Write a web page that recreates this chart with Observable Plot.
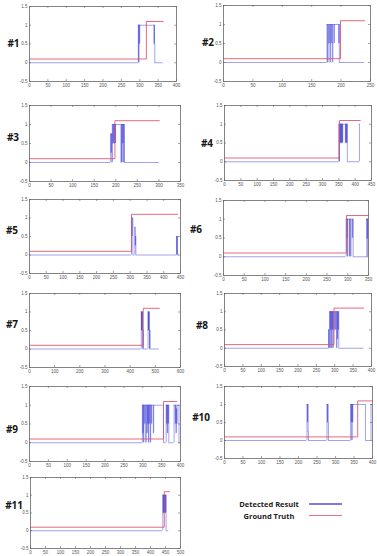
<!DOCTYPE html>
<html>
<head>
<meta charset="utf-8">
<script src="https://cdn.jsdelivr.net/npm/d3@7"></script>
<script src="https://cdn.jsdelivr.net/npm/@observablehq/plot@0.6"></script>
<style>
  body { margin: 0; background: #fff; }
  #chart { position: relative; width: 377px; height: 556px; overflow: hidden; font-family: "Open Sans", "Liberation Sans", sans-serif; }
  .panel { position: absolute; }
  .tag { position: absolute; font-weight: 700; font-size: 10px; color: #151515; transform: translate(-50%, -50%); white-space: nowrap; letter-spacing: -0.2px; }
  .legend-text { position: absolute; font-weight: 700; font-size: 7.5px; color: #222; transform: translate(-50%, -50%); white-space: nowrap; }
  .legend-line { position: absolute; height: 1.3px; }
</style>
</head>
<body>
<div id="chart"></div>
<script>
// Sequence names
const panelNames = ["#1", "#2", "#3", "#4", "#5", "#6", "#7", "#8", "#9", "#10", "#11"];

// x-axis extent and tick step per sequence (frame index)
const xMax  = [400, 250, 350, 450, 450, 350, 600, 400, 400, 400, 500];
const xStep = [50, 50, 50, 50, 50, 50, 100, 50, 50, 50, 50];
const yTicks = [-0.5, 0, 0.5, 1, 1.5];

// Ground truth: low level until the event frame, high level until the last frame
const truthLevels = [0.1, 1.1];
const truthRise = [318, 199, 198, 352, 304, 297, 452, 298, 355, 360, 446];
const truthEnd  = [364, 240, 301, 416, 442, 350, 516, 379, 391, 400, 464];

// Detected result: [frame, value] change points (held until the next point)
const detected1 = [[0,0],[296,1],[297,0],[298,1],[299,0.5],[300,1],[339,0.5],[339.5,1],[340,0.5],[341,0],[364,0]];
const detected2 = [[0,0],[176,1],[177,0],[178,1],[179,0.5],[180,1],[181,0],[182,1],[183,0.5],[184,1],[185,0],[186,1],[188,0.5],[188.5,1],[196,0.5],[196.5,1],[197,0],[240,0]];
const detected3 = [[0,0],[188,0.75],[189,0.25],[190,0.75],[191,0],[192,1],[193,0.5],[194,1],[195,0.5],[196,1],[197,0.5],[198,1],[199,0.5],[199.5,1],[212,0],[213,1],[214,0],[215,1],[216,0.5],[217,1],[218,0],[219,1],[220,0],[301,0]];
const detected4 = [[0,0],[350,1],[351,0],[352,1],[353,0.5],[354,1],[355,0.5],[356,1],[357,0.5],[358,1],[359,0.5],[360,1],[361,0.5],[362,1],[370,0.5],[371,1],[372,0.5],[373,1],[374,0.5],[375,1],[376,0],[413,1],[415,1]];
const detected5 = [[0,0],[304,1],[305,0.5],[306,1],[308,0],[314,0.75],[315,0.25],[316,0.5],[317,0],[438,0.5],[439,0],[440,0.5],[441,0],[446,0]];
const detected6 = [[0,0],[296,1],[297,0.5],[298,1],[299,0],[300,1],[304,0],[304.5,1],[307,0],[307.5,1],[311,0.5],[312,1],[313,0],[316,0],[346,1],[346.5,0.5],[347,1],[347.5,0.5],[348,0]];
const detected7 = [[0,0],[444,1],[445,0.5],[446,1],[447,0.5],[448,1],[449,0.5],[450,0],[451,0.5],[452,0],[471,1],[472,0.5],[473,1],[474,0.5],[475,1],[476,0.5],[477,0],[478,0.5],[478.5,0],[516,0]];
const detected8 = [[0,0],[283,0.5],[284,0],[285,0.5],[286,1],[287,0],[288,1],[289,0.5],[290,1],[291,0],[292,1],[293,0.5],[294,1],[295,0],[296,1],[298,0.5],[299,1],[302,0.5],[303,1],[305,0],[306,1],[307,0.25],[308,1],[309,0.5],[310,1],[311,0],[379,0]];
const detected9 = [[0,0],[299,1],[300,0.25],[301,1],[302,0],[303,1],[305,0.5],[306,1],[308,0],[309,1],[311,0.25],[312,1],[313,0.5],[314,1],[315,0],[316,1],[317,0.5],[318,1],[320,0],[321,1],[323,0.5],[324,1],[328,0.25],[329,1],[355,0],[362,1],[363,0.5],[364,1],[365,0.25],[366,1],[367,0.5],[368,1],[369,0],[383,1],[386,0.5],[387,1],[388,0.25],[389,0.9],[390,0.5],[391,1],[396,0],[400,0]];
const detected10 = [[0,0],[223,1],[224,0.5],[225,1],[226,0.25],[227,0],[277,1],[278,0.5],[279,1],[280,0.5],[281,0],[341,1],[342,0.5],[343,1],[344,0],[345,1],[346,0.5],[347,1],[381,0],[396,1],[400,1]];
const detected11 = [[0,0],[441,1],[442,0.5],[443,1],[444,0.5],[445,1],[446,0.5],[447,1],[448,0.5],[449,1],[450,0.5],[451,1],[452,0],[461,0]];
const detectedAll = [detected1, detected2, detected3, detected4, detected5, detected6, detected7, detected8, detected9, detected10, detected11];

// Page layout: [column left, column width, frame left, frame right, frame top, frame bottom]
const layout = [
  [0, 188, 29, 176, 6, 81],
  [188, 189, 223, 370, 5, 81],
  [0, 188, 29, 180, 105, 181],
  [188, 189, 224, 371, 105, 180],
  [0, 188, 29, 180, 199, 273],
  [188, 189, 223, 368, 200, 275],
  [0, 188, 29, 180, 293, 367],
  [188, 189, 224, 371, 293, 366],
  [0, 188, 29, 180, 386, 461],
  [188, 189, 224, 372, 386, 458],
  [0, 188, 30, 180, 477, 548]
];
// Sequence tag centres
const tagPos = [[13.5,43],[208,42],[13,137],[207,143],[12,230],[196,229],[12,324],[202,325],[12,429],[201,417],[14,505]];

const blue = "#3434d4";
const red = "#e0506a";
const chart = document.getElementById("chart");

detectedAll.forEach((pts, i) => {
  const [colX, colW, fl, fr, ft, fb] = layout[i];
  const mTop = 4, mBottom = 8;
  const height = fb - ft + mTop + mBottom;
  const plotW = fr - fl, plotH = fb - ft;
  const xt = d3.range(0, xMax[i] + 1, xStep[i]);

  // split the step series into horizontal runs and vertical transitions
  const runs = [], jumps = [];
  for (let k = 0; k < pts.length - 1; k++) {
    const [x0, y0] = pts[k], [x1, y1] = pts[k + 1];
    runs.push({x1: x0, x2: x1, y: y0});
    if (y1 !== y0) jumps.push({x: x1, y1: y0, y2: y1});
  }
  const truth = [
    {x: 0, y: truthLevels[0]},
    {x: truthRise[i], y: truthLevels[1]},
    {x: truthEnd[i], y: truthLevels[1]}
  ];

  const svg = Plot.plot({
    width: colW,
    height,
    marginLeft: fl - colX,
    marginRight: colX + colW - fr,
    marginTop: mTop,
    marginBottom: mBottom,
    style: {background: "transparent", fontFamily: "Liberation Sans, Arial, sans-serif", color: "#555", overflow: "visible"},
    x: {domain: [0, xMax[i]]},
    y: {domain: [-0.5, 1.5]},
    marks: [
      Plot.axisX(xt, {tickSize: 0, tickPadding: 2, fontSize: 4.5, fill: "#555"}),
      Plot.axisY(yTicks, {tickSize: 0, tickPadding: 2, fontSize: 4.5, fill: "#555", tickFormat: d => String(d)}),
      Plot.tickX(xt, {x: d => d, insetTop: plotH - 2, stroke: "#666", strokeWidth: 0.6}),
      Plot.tickX(xt, {x: d => d, insetBottom: plotH - 2, stroke: "#666", strokeWidth: 0.6}),
      Plot.tickY(yTicks, {y: d => d, insetRight: plotW - 2, stroke: "#666", strokeWidth: 0.6}),
      Plot.tickY(yTicks, {y: d => d, insetLeft: plotW - 2, stroke: "#666", strokeWidth: 0.6}),
      Plot.ruleY(runs, {y: "y", x1: "x1", x2: "x2", stroke: blue, strokeOpacity: 0.45, strokeWidth: 1}),
      Plot.ruleX(jumps, {x: "x", y1: "y1", y2: "y2", stroke: blue, strokeOpacity: 0.45, strokeWidth: 1}),
      Plot.line(truth, {x: "x", y: "y", curve: "step-after", stroke: red, strokeOpacity: 0.85, strokeWidth: 1}),
      Plot.frame({stroke: "#666", strokeWidth: 0.8})
    ]
  });
  svg.classList.add("panel");
  svg.style.left = colX + "px";
  svg.style.top = (ft - mTop) + "px";
  chart.appendChild(svg);

  const tag = document.createElement("div");
  tag.className = "tag";
  tag.textContent = panelNames[i];
  tag.style.left = tagPos[i][0] + "px";
  tag.style.top = tagPos[i][1] + "px";
  chart.appendChild(tag);
});

// Legend
const legendItems = [["Detected Result", blue, 0.65], ["Ground Truth", red, 0.8]];
legendItems.forEach(([label, color, op], k) => {
  const y = 504 + k * 11.5;
  const t = document.createElement("div");
  t.className = "legend-text";
  t.textContent = label;
  t.style.left = "269px";
  t.style.top = y + "px";
  chart.appendChild(t);
  const l = document.createElement("div");
  l.className = "legend-line";
  l.style.left = "309px";
  l.style.width = "33px";
  l.style.top = (y - 0.6) + "px";
  l.style.background = color;
  l.style.opacity = op;
  chart.appendChild(l);
});
</script>
</body>
</html>
